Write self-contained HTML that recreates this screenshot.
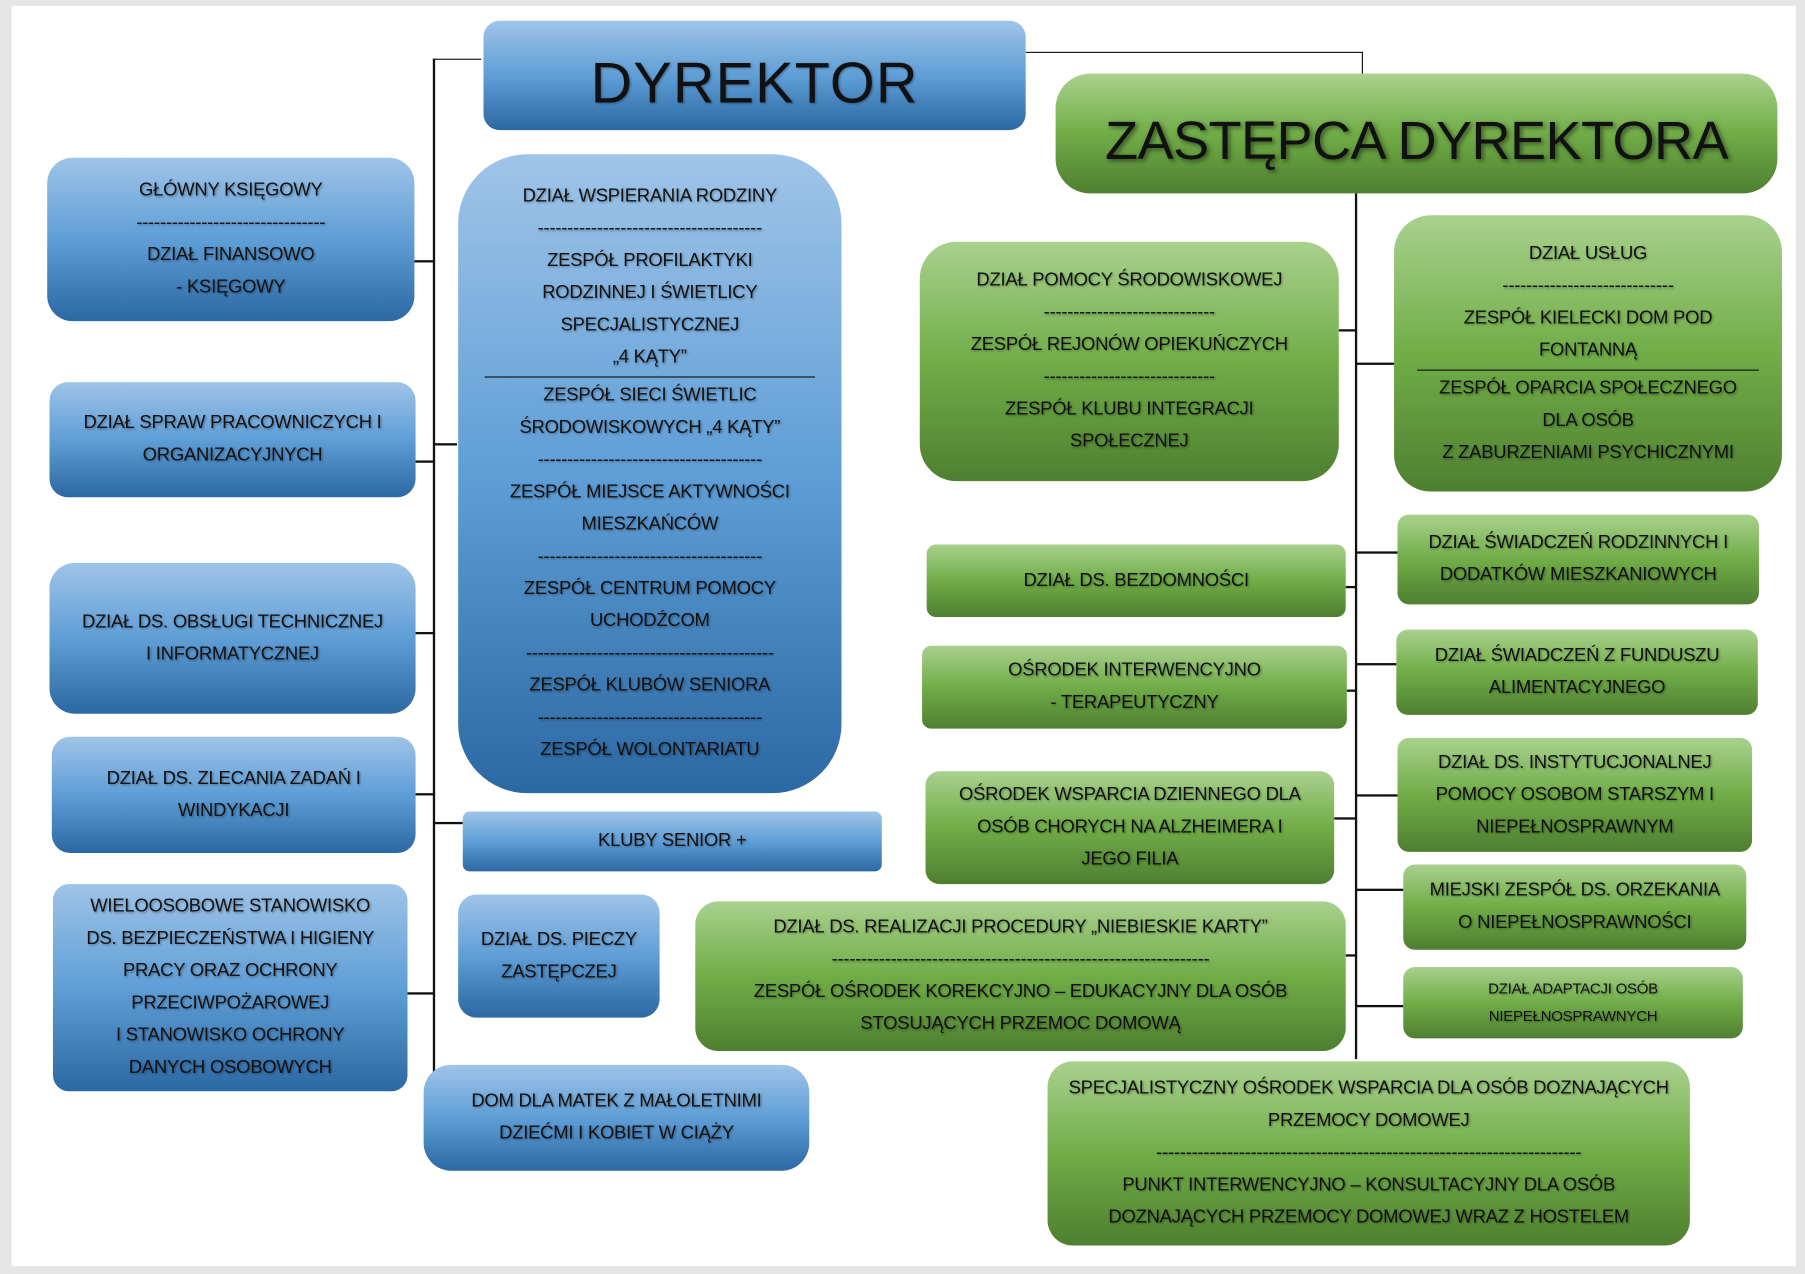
<!DOCTYPE html>
<html><head><meta charset="utf-8"><style>
html,body{margin:0;padding:0;width:1805px;height:1274px;overflow:hidden;background:#e6e6e6}
#w{position:absolute;left:0;top:0;width:1568px;height:1107px;transform:scale(1.15115);transform-origin:0 0}
#page{position:absolute;left:10px;top:5px;width:1550px;height:1095px;background:#fff}
.b{position:absolute;box-sizing:border-box;display:flex;flex-direction:column;justify-content:center;align-items:center;text-align:center;font-family:"Liberation Sans",sans-serif;font-size:16px;line-height:28px;color:#111;text-shadow:1px 1px 2px rgba(0,0,0,.35);letter-spacing:-0.2px}
.bl{background:linear-gradient(#9fc4e8,#5f9ed6 50%,#2c68a3)}
.gr{background:linear-gradient(#a9d18e,#71ad47 50%,#4f7f31)}
.l{position:absolute;background:#111}
.hr{width:86%;border-top:1px solid #111;margin:2px 0}
</style></head><body><div id="w">
<div id="page"></div>
<div class="l" style="left:376px;top:51px;width:2px;height:881px"></div>
<div class="l" style="left:376px;top:51px;width:42px;height:1px"></div>
<div class="l" style="left:360px;top:226px;width:17px;height:2px"></div>
<div class="l" style="left:361px;top:400px;width:16px;height:2px"></div>
<div class="l" style="left:377px;top:385px;width:20px;height:2px"></div>
<div class="l" style="left:361px;top:549px;width:16px;height:2px"></div>
<div class="l" style="left:361px;top:689px;width:16px;height:2px"></div>
<div class="l" style="left:377px;top:714px;width:25px;height:2px"></div>
<div class="l" style="left:354px;top:862px;width:23px;height:2px"></div>
<div class="l" style="left:891px;top:45px;width:293px;height:1px"></div>
<div class="l" style="left:1183px;top:45px;width:1px;height:20px"></div>
<div class="l" style="left:1177px;top:168px;width:2px;height:752px"></div>
<div class="l" style="left:1163px;top:286px;width:15px;height:2px"></div>
<div class="l" style="left:1178px;top:315px;width:33px;height:2px"></div>
<div class="l" style="left:1178px;top:479px;width:36px;height:2px"></div>
<div class="l" style="left:1169px;top:509px;width:9px;height:2px"></div>
<div class="l" style="left:1178px;top:576px;width:35px;height:2px"></div>
<div class="l" style="left:1170px;top:599px;width:8px;height:2px"></div>
<div class="l" style="left:1178px;top:690px;width:36px;height:2px"></div>
<div class="l" style="left:1159px;top:710px;width:19px;height:2px"></div>
<div class="l" style="left:1178px;top:772px;width:41px;height:2px"></div>
<div class="l" style="left:1169px;top:829px;width:9px;height:2px"></div>
<div class="l" style="left:1178px;top:873px;width:41px;height:2px"></div>

<div class="b bl" style="left:420px;top:18px;width:471px;height:95px;border-radius:14px;font-size:50px;line-height:60px;letter-spacing:1px;padding-top:12px">DYREKTOR</div>
<div class="b gr" style="left:917px;top:64px;width:627px;height:104px;border-radius:30px;font-size:47px;line-height:60px;letter-spacing:-0.5px;text-shadow:2px 2px 4px rgba(0,0,0,.5);padding-top:12px">ZASTĘPCA DYREKTORA</div>

<div class="b bl" style="left:41px;top:137px;width:319px;height:142px;border-radius:22px">GŁÓWNY KSIĘGOWY<div>--------------------------------</div>DZIAŁ FINANSOWO<br>- KSIĘGOWY</div>
<div class="b bl" style="left:43px;top:332px;width:318px;height:100px;border-radius:16px">DZIAŁ SPRAW PRACOWNICZYCH I<br>ORGANIZACYJNYCH</div>
<div class="b bl" style="left:43px;top:489px;width:318px;height:131px;border-radius:22px">DZIAŁ DS. OBSŁUGI TECHNICZNEJ<br>I INFORMATYCZNEJ</div>
<div class="b bl" style="left:45px;top:640px;width:316px;height:101px;border-radius:16px">DZIAŁ DS. ZLECANIA ZADAŃ I<br>WINDYKACJI</div>
<div class="b bl" style="left:46px;top:768px;width:308px;height:180px;border-radius:14px">WIELOOSOBOWE STANOWISKO<br>DS. BEZPIECZEŃSTWA I HIGIENY<br>PRACY ORAZ OCHRONY<br>PRZECIWPOŻAROWEJ<br>I STANOWISKO OCHRONY<br>DANYCH OSOBOWYCH</div>

<div class="b bl" style="left:398px;top:134px;width:333px;height:555px;border-radius:60px">DZIAŁ WSPIERANIA RODZINY<div>--------------------------------------</div>ZESPÓŁ PROFILAKTYKI<br>RODZINNEJ I ŚWIETLICY<br>SPECJALISTYCZNEJ<br>„4 KĄTY”<div class="hr"></div>ZESPÓŁ SIECI ŚWIETLIC<br>ŚRODOWISKOWYCH „4 KĄTY”<div>--------------------------------------</div>ZESPÓŁ MIEJSCE AKTYWNOŚCI<br>MIESZKAŃCÓW<div>--------------------------------------</div>ZESPÓŁ CENTRUM POMOCY<br>UCHODŹCOM<div>------------------------------------------</div>ZESPÓŁ KLUBÓW SENIORA<div>--------------------------------------</div>ZESPÓŁ WOLONTARIATU</div>
<div class="b bl" style="left:402px;top:705px;width:364px;height:52px;border-radius:6px">KLUBY SENIOR +</div>
<div class="b bl" style="left:398px;top:777px;width:175px;height:107px;border-radius:16px">DZIAŁ DS. PIECZY<br>ZASTĘPCZEJ</div>
<div class="b bl" style="left:368px;top:925px;width:335px;height:92px;border-radius:24px">DOM DLA MATEK Z MAŁOLETNIMI<br>DZIEĆMI I KOBIET W CIĄŻY</div>

<div class="b gr" style="left:799px;top:210px;width:364px;height:208px;border-radius:32px">DZIAŁ POMOCY ŚRODOWISKOWEJ<div>-----------------------------</div>ZESPÓŁ REJONÓW OPIEKUŃCZYCH<div>-----------------------------</div>ZESPÓŁ KLUBU INTEGRACJI<br>SPOŁECZNEJ</div>
<div class="b gr" style="left:1211px;top:187px;width:337px;height:240px;border-radius:32px">DZIAŁ USŁUG<div>-----------------------------</div>ZESPÓŁ KIELECKI DOM POD<br>FONTANNĄ<div class="hr" style="width:88%"></div>ZESPÓŁ OPARCIA SPOŁECZNEGO<br>DLA OSÓB<br>Z ZABURZENIAMI PSYCHICZNYMI</div>
<div class="b gr" style="left:805px;top:473px;width:364px;height:63px;border-radius:8px">DZIAŁ DS. BEZDOMNOŚCI</div>
<div class="b gr" style="left:801px;top:561px;width:369px;height:72px;border-radius:8px">OŚRODEK INTERWENCYJNO<br>- TERAPEUTYCZNY</div>
<div class="b gr" style="left:804px;top:670px;width:355px;height:98px;border-radius:12px">OŚRODEK WSPARCIA DZIENNEGO DLA<br>OSÓB CHORYCH NA ALZHEIMERA I<br>JEGO FILIA</div>
<div class="b gr" style="left:604px;top:783px;width:565px;height:130px;border-radius:20px">DZIAŁ DS. REALIZACJI PROCEDURY „NIEBIESKIE KARTY”<div>----------------------------------------------------------------</div>ZESPÓŁ OŚRODEK KOREKCYJNO – EDUKACYJNY DLA OSÓB<br>STOSUJĄCYCH PRZEMOC DOMOWĄ</div>
<div class="b gr" style="left:910px;top:922px;width:558px;height:160px;border-radius:22px">SPECJALISTYCZNY OŚRODEK WSPARCIA DLA OSÓB DOZNAJĄCYCH<br>PRZEMOCY DOMOWEJ<div>------------------------------------------------------------------------</div>PUNKT INTERWENCYJNO – KONSULTACYJNY DLA OSÓB<br>DOZNAJĄCYCH PRZEMOCY DOMOWEJ WRAZ Z HOSTELEM</div>

<div class="b gr" style="left:1214px;top:447px;width:314px;height:78px;border-radius:10px">DZIAŁ ŚWIADCZEŃ RODZINNYCH I<br>DODATKÓW MIESZKANIOWYCH</div>
<div class="b gr" style="left:1213px;top:547px;width:314px;height:74px;border-radius:10px">DZIAŁ ŚWIADCZEŃ Z FUNDUSZU<br>ALIMENTACYJNEGO</div>
<div class="b gr" style="left:1214px;top:641px;width:308px;height:99px;border-radius:10px">DZIAŁ DS. INSTYTUCJONALNEJ<br>POMOCY OSOBOM STARSZYM I<br>NIEPEŁNOSPRAWNYM</div>
<div class="b gr" style="left:1219px;top:751px;width:298px;height:74px;border-radius:10px">MIEJSKI ZESPÓŁ DS. ORZEKANIA<br>O NIEPEŁNOSPRAWNOŚCI</div>
<div class="b gr" style="left:1219px;top:840px;width:295px;height:62px;border-radius:10px;font-size:13px;line-height:24px">DZIAŁ ADAPTACJI OSÓB<br>NIEPEŁNOSPRAWNYCH</div>
</div></body></html>
